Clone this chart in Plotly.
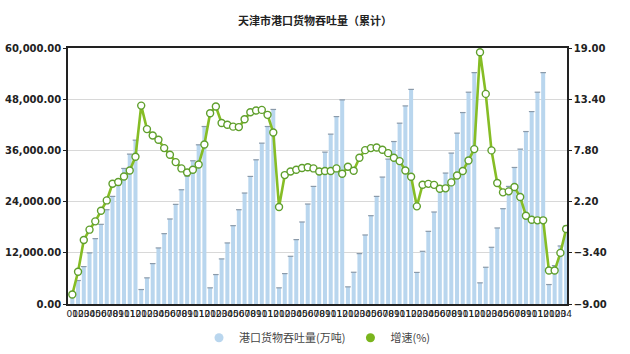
import plotly.graph_objects as go

# ---- data ----
year_months = [
    ["01", "02", "03", "04", "05", "06", "07", "08", "09", "10", "11", "12"],
    ["01", "02", "03", "04", "05", "06", "07", "08", "09", "10", "11", "12"],
    ["01", "02", "03", "04", "05", "06", "07", "08", "09", "10", "11", "12"],
    ["01", "02", "03", "04", "05", "06", "07", "08", "09", "10", "11", "12"],
    ["01", "02", "03", "04", "05", "06", "07", "08", "09", "10", "11", "12"],
    ["02", "03", "04", "05", "06", "07", "08", "09", "10", "11", "12"],
    ["01", "02", "03", "04", "05", "06", "07", "08", "09", "10", "11", "12"],
    ["01", "02", "03", "04"],
]
tick_labels = [m for yr in year_months for m in yr]

throughput = [
    2200, 5500, 8770, 11980, 15320, 18670, 22100, 25220, 27880, 31770, 35130, 38400,
    3390, 6130, 9470, 13140, 16490, 19930, 23350, 26780, 29980, 33570, 37310, 41600,
    3790, 6900, 10570, 14310, 18360, 22100, 26010, 29900, 33800, 37700, 41600, 45600,
    3790, 7130, 11180, 15090, 19220, 23430, 27560, 31460, 35600, 39810, 43930, 47840,
    4020, 7440, 11810, 16180, 20700, 25220, 29750, 33960, 38080, 42380, 46430, 50300,
    7400, 12350, 17030, 21560, 26390, 30690, 35370, 40050, 44870, 49640, 54230,
    4960, 8610, 13290, 17820, 22340, 27560, 32000, 36300, 40420, 45100, 49640, 54230,
    4560, 9000, 13600, 18300,
]
growth = [
    -7.96, -5.48, -2.0, -0.87, 0.04, 1.2, 2.33, 4.15, 4.34, 4.95, 5.6, 7.1,
    12.7, 10.13, 9.43, 8.96, 8.05, 7.32, 6.52, 5.83, 5.39, 5.68, 6.26, 8.45,
    11.87, 12.6, 10.8, 10.6, 10.4, 10.35, 11.2, 11.98, 12.16, 12.23, 11.69, 9.76,
    1.61, 5.1, 5.5, 5.68, 5.88, 5.95, 5.83, 5.5, 5.54, 5.54, 5.83, 5.25,
    6.01, 5.57, 6.99, 7.83, 8.05, 8.12, 7.87, 7.5, 6.99, 6.63, 5.6, 4.92,
    1.68, 4.05, 4.14, 4.03, 3.61, 3.65, 4.3, 5.05, 5.54, 6.7, 7.94,
    18.53, 13.98, 7.8, 4.23, 3.21, 3.32, 3.79, 2.7, 0.66, 0.22, 0.15, 0.15,
    -5.34, -5.34, -3.41, -0.79,
]
bar_name = "港口货物吞吐量(万吨)"
line_name = "增速(%)"
title_text = "天津市港口货物吞吐量（累计）"
left_ticks = [0, 12000, 24000, 36000, 48000, 60000]
right_ticks = [-9.0, -3.4, 2.2, 7.8, 13.4, 19.0]

x = list(range(len(throughput)))

BAR_COLOR = "#b9d6ee"
LINE_COLOR = "#86bd25"
MARK_EDGE = "#5f9f2c"
FONT = "DejaVu Sans"

fig = go.Figure()
fig.add_trace(go.Bar(
    x=x, y=throughput, name=bar_name, marker=dict(color=BAR_COLOR, line=dict(width=0)),
    showlegend=False, yaxis="y",
))
# darker caps on bar tops
fig.add_trace(go.Scatter(
    x=x, y=throughput, mode="markers", showlegend=False, hoverinfo="skip",
    marker=dict(symbol="line-ew", size=4, line=dict(color="#8a9aaa", width=1.2)),
    yaxis="y",
))
fig.add_trace(go.Scatter(
    x=x, y=growth, name=line_name, mode="lines+markers", yaxis="y2", showlegend=False,
    line=dict(color=LINE_COLOR, width=2.6),
    marker=dict(symbol="circle", size=7, color="white", line=dict(color=MARK_EDGE, width=1.4)),
))
# legend proxies (circle symbols as in the reference)
fig.add_trace(go.Scatter(x=[None], y=[None], mode="markers", name=bar_name,
                         marker=dict(symbol="circle", size=9, color=BAR_COLOR)))
fig.add_trace(go.Scatter(x=[None], y=[None], mode="markers", name=line_name,
                         marker=dict(symbol="circle", size=9, color="#7ab51d")))

fig.update_layout(
    width=630, height=354,
    margin=dict(l=68, r=63, t=48, b=50, autoexpand=False),
    paper_bgcolor="white", plot_bgcolor="white",
    bargap=0.3,
    title=dict(text="<b>" + title_text + "</b>", x=0.5, xanchor="center", y=0.94, yanchor="middle",
               font=dict(family="Noto Sans CJK SC", size=11, color="#222")),
    font=dict(family=FONT, color="#222"),
    xaxis=dict(
        range=[-0.75, 86.15], tickmode="array", tickvals=x, ticktext=tick_labels,
        tickangle=0, tickfont=dict(size=9, color="#222", family=FONT),
        showgrid=False, showline=True, linecolor="#222", linewidth=1.5, mirror=True,
        ticks="", zeroline=False, automargin=False,
    ),
    yaxis=dict(
        range=[0, 60000], tickvals=left_ticks, tickformat=",.2f",
        tickfont=dict(size=10, color="#222", family=FONT, weight="bold"),
        showgrid=True, gridcolor="#d8d8d8", gridwidth=1,
        showline=True, linecolor="#222", linewidth=1.5,
        ticks="outside", ticklen=3, tickcolor="#222", zeroline=False, automargin=False,
    ),
    yaxis2=dict(
        range=[-9, 19], tickvals=right_ticks, tickformat=".2f", overlaying="y", side="right",
        tickfont=dict(size=10, color="#222", family=FONT, weight="bold"),
        showgrid=False, showline=True, linecolor="#222", linewidth=1.5,
        ticks="outside", ticklen=3, tickcolor="#222", zeroline=False, automargin=False,
    ),
    legend=dict(orientation="h", x=0.5, xanchor="center", y=-0.075, yanchor="top",
                font=dict(family="Noto Sans CJK SC", size=11, color="#444"),
                itemwidth=30, tracegroupgap=0, bgcolor="rgba(0,0,0,0)"),
)

fig.write_html("out.html")
